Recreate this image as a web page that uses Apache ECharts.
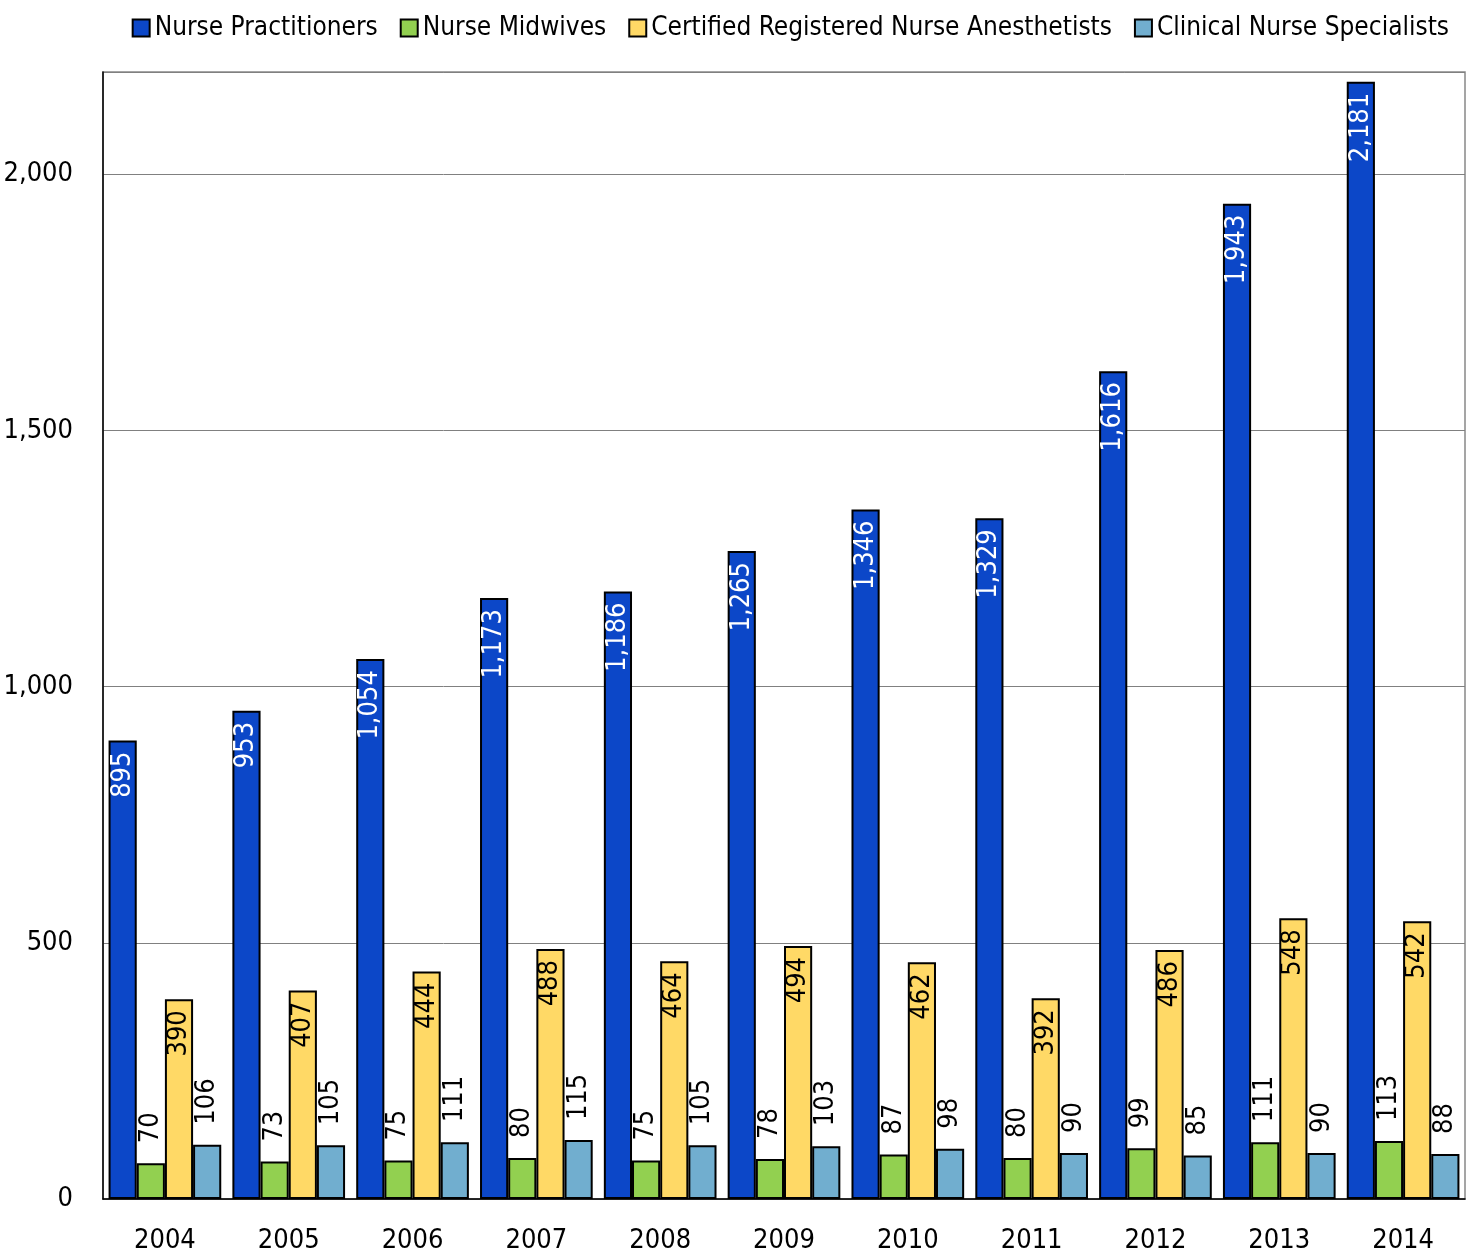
<!DOCTYPE html>
<html>
<head>
<meta charset="utf-8">
<script src="https://cdn.jsdelivr.net/npm/echarts@6/dist/echarts.min.js"></script>
<style>html,body{margin:0;padding:0;background:#fff}#c{width:1472px;height:1254px}</style>
</head>
<body>
<div id="c"></div>
<script>
const years = ['2004','2005','2006','2007','2008','2009','2010','2011','2012','2013','2014'];
const nursePractitioners = [895,953,1054,1173,1186,1265,1346,1329,1616,1943,2181];
const nurseMidwives = [70,73,75,80,75,78,87,80,99,111,113];
const crna = [390,407,444,488,464,494,462,392,486,548,542];
const clinicalSpecialists = [106,105,111,115,105,103,98,90,85,90,88];
const seriesNames = ['Nurse Practitioners','Nurse Midwives','Certified Registered Nurse Anesthetists','Clinical Nurse Specialists'];
const colors = ['#0C47C8','#92D050','#FFD966','#71AECF'];

function hasFont(name){
  const c=document.createElement('canvas').getContext('2d');
  const s='Nurse Practitioners 2,000';
  c.font='30px monospace'; const a=c.measureText(s).width;
  c.font='30px "'+name+'", monospace'; const b=c.measureText(s).width;
  return Math.abs(a-b)>0.5;
}
const candidates=['Liberation Sans Narrow','Arial Narrow','DejaVu Sans Condensed','Roboto Condensed'];
let picked='Liberation Sans';
for(const f of candidates){ if(hasFont(f)){picked=f;break;} }
const FONT = '"'+picked+'", "Liberation Sans", Arial, sans-serif';
const narrow = (picked==='Liberation Sans Narrow'||picked==='Arial Narrow');
const LBL = narrow?30:27;
const AX = narrow?30:27;
const LEG = narrow?29:26;
const fmt = p => Number(p.value).toLocaleString('en-US');

function labelCfg(kind){
  const base={show:true,rotate:90,verticalAlign:'middle',fontFamily:FONT,fontSize:LBL,formatter:fmt};
  if(kind==='insideWhite') return Object.assign(base,{position:'insideTop',align:'right',distance:11,color:'#fff'});
  if(kind==='insideBlack') return Object.assign(base,{position:'insideTop',align:'right',distance:11,color:'#000'});
  return Object.assign(base,{position:'top',align:'left',distance:20,color:'#000'});
}
const dataArr = [nursePractitioners,nurseMidwives,crna,clinicalSpecialists];
const labelKinds = ['insideWhite','outside','insideBlack','outside'];

const chart = echarts.init(document.getElementById('c'),null,{renderer:'canvas'});
chart.setOption({
  animation:false,
  textStyle:{fontFamily:FONT},
  legend:{
    top:10,right:18,
    itemWidth:17,itemHeight:17,itemGap:22,
    icon:'rect',
    textStyle:{fontFamily:FONT,fontSize:LEG,color:'#000'},
    data:seriesNames
  },
  grid:{left:103,right:7,top:72,bottom:55,show:true,borderColor:'#888',borderWidth:1.5,containLabel:false},
  xAxis:{
    type:'category',data:years,
    axisLine:{lineStyle:{color:'#000',width:1.5}},
    axisTick:{show:false},
    axisLabel:{fontFamily:FONT,fontSize:AX,color:'#000',margin:28}
  },
  yAxis:{
    type:'value',min:0,max:2200,interval:500,
    axisLine:{show:true,lineStyle:{color:'#000',width:1.5}},
    axisTick:{show:false},
    splitLine:{lineStyle:{color:'#808080',width:1}},
    axisLabel:{fontFamily:FONT,fontSize:AX,color:'#000',margin:30,showMaxLabel:false,
      formatter:v=> v===2200?'':Number(v).toLocaleString('en-US')}
  },
  series: seriesNames.map((n,i)=>({
    name:n,type:'bar',data:dataArr[i],
    barGap:'0%',barCategoryGap:'9%',
    itemStyle:{color:colors[i],borderColor:'#000',borderWidth:2},
    label:labelCfg(labelKinds[i])
  }))
});
</script>
</body>
</html>
